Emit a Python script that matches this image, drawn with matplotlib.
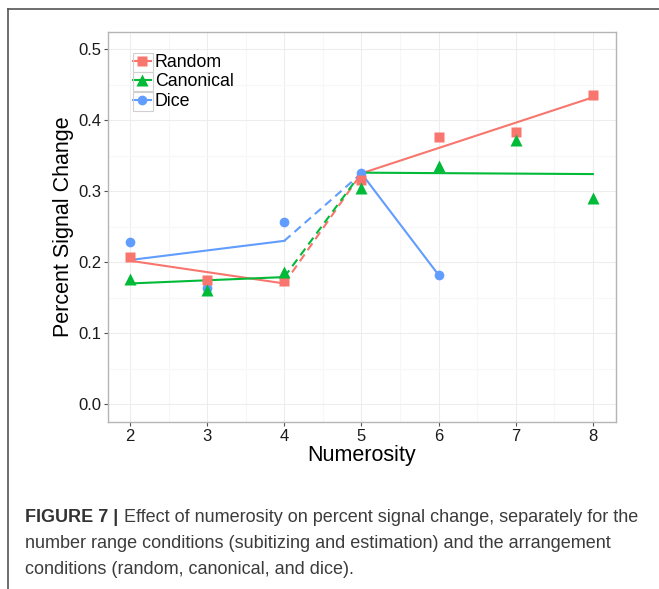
import matplotlib.pyplot as plt
from matplotlib.lines import Line2D
from matplotlib.patches import Rectangle

# ggplot default hues
colors = {'Random': '#F8766D', 'Canonical': '#00BA38', 'Dice': '#619CFF'}
markers = {'Random': 's', 'Canonical': '^', 'Dice': 'o'}
msizes = {'Random': 7, 'Canonical': 8.5, 'Dice': 7}

conditions = ['Random', 'Canonical', 'Dice']

# observed means
numerosity = [2, 3, 4, 5, 6, 7, 8]
random_psc = [0.207, 0.175, 0.174, 0.316, 0.376, 0.383, 0.435]
canonical_psc = [0.177, 0.161, 0.186, 0.305, 0.335, 0.372, 0.290]
dice_numerosity = [2, 3, 4, 5, 6]
dice_psc = [0.229, 0.164, 0.256, 0.325, 0.182]

# fitted lines: subitizing range (2-4) and estimation range (5-8)
sub_x = [2, 4]
random_sub = [0.202, 0.170]
canonical_sub = [0.170, 0.179]
dice_sub = [0.203, 0.230]

est_x = [5, 8]
random_est = [0.325, 0.432]
canonical_est = [0.326, 0.324]
dice_est_x = [5, 6]
dice_est = [0.325, 0.182]

points = {
    'Random': (numerosity, random_psc),
    'Canonical': (numerosity, canonical_psc),
    'Dice': (dice_numerosity, dice_psc),
}
sub_fits = {'Random': random_sub, 'Canonical': canonical_sub, 'Dice': dice_sub}
est_fits = {
    'Random': (est_x, random_est),
    'Canonical': (est_x, canonical_est),
    'Dice': (dice_est_x, dice_est),
}

W, H = 659, 589
fig = plt.figure(figsize=(W / 100, H / 100), dpi=100)
plt.rcParams['font.family'] = ['Liberation Sans', 'DejaVu Sans']

ax = fig.add_axes([108 / W, 1 - 422 / H, 508 / W, 390 / H])

for cond in conditions:
    c = colors[cond]
    # subitizing fit
    ax.plot(sub_x, sub_fits[cond], color=c, lw=1.5, zorder=3)
    # dashed bridge between the two fits
    ex, ey = est_fits[cond]
    ax.plot([sub_x[-1], ex[0]], [sub_fits[cond][-1], ey[0]], color=c, lw=1.5,
            dashes=(4, 2.5), zorder=3)
    # estimation fit
    ax.plot(ex, ey, color=c, lw=1.5, zorder=3)

for cond in ['Dice', 'Random', 'Canonical']:
    x, y = points[cond]
    ax.plot(x, y, ls='none', marker=markers[cond], ms=msizes[cond],
            color=colors[cond], mec='none', zorder=4)

ax.set_xlim(1.715, 8.3)
ax.set_ylim(-0.025, 0.524)
ax.set_xticks(numerosity)
ax.set_yticks([0.0, 0.1, 0.2, 0.3, 0.4, 0.5])
ax.set_yticklabels(['0.0', '0.1', '0.2', '0.3', '0.4', '0.5'])
ax.set_xticks([2.5, 3.5, 4.5, 5.5, 6.5, 7.5], minor=True)
ax.set_yticks([0.05, 0.15, 0.25, 0.35, 0.45], minor=True)
ax.grid(which='major', color='#ededed', lw=0.8, zorder=0)
ax.grid(which='minor', color='#f7f7f7', lw=0.8, zorder=0)
ax.set_axisbelow(True)
ax.tick_params(which='minor', length=0)
ax.tick_params(which='major', length=3, width=0.8, color='#555555',
               labelsize=12, labelcolor='#1a1a1a', pad=2)
for s in ax.spines.values():
    s.set_color('#b5b5b5')
    s.set_linewidth(1.0)

ax.set_xlabel('Numerosity', fontsize=15.5, labelpad=1)
ax.set_ylabel('Percent Signal Change', fontsize=15.5, labelpad=3)

# legend
handles = [Line2D([], [], color=colors[c], lw=1.5, marker=markers[c],
                  ms=msizes[c], mec='none') for c in conditions]
leg = ax.legend(handles, conditions, loc='upper left',
                bbox_to_anchor=(131 / W, 1 - 52 / H), bbox_transform=fig.transFigure,
                frameon=False, fontsize=12.8, handlelength=1.05, handletextpad=0.2,
                labelspacing=0.14, borderpad=0.1, borderaxespad=0)
fig.canvas.draw()
# grey key boxes, one per legend row
for txt in leg.get_texts():
    tb = txt.get_window_extent()
    yc = (tb.y0 + tb.y1) / 2
    fig.add_artist(Rectangle((133 / W, (yc - 9.5) / H), 20 / W, 19 / H,
                             transform=fig.transFigure, fill=False,
                             ec='#d0d0d0', lw=0.8, zorder=2))

# page frame
fig.add_artist(Line2D([8 / W, 1], [1 - 9 / H, 1 - 9 / H], color='#555555', lw=1.2))
fig.add_artist(Line2D([8 / W, 8 / W], [0, 1 - 9 / H], color='#555555', lw=1.2))

# caption
fs = 13
cap_col = '#3c3c3c'
t = fig.text(25 / W, 1 - 518 / H, 'FIGURE 7 |', fontsize=fs, fontweight='bold',
             color='#333333', va='center')
fig.canvas.draw()
bb = t.get_window_extent()
fig.text((bb.x1 + 6) / W, 1 - 518 / H,
         'Effect of numerosity on percent signal change, separately for the',
         fontsize=fs, color=cap_col, va='center')
fig.text(25 / W, 1 - 543 / H,
         'number range conditions (subitizing and estimation) and the arrangement',
         fontsize=fs, color=cap_col, va='center')
fig.text(25 / W, 1 - 569 / H, 'conditions (random, canonical, and dice).',
         fontsize=fs, color=cap_col, va='center')

fig.savefig('out.png', dpi=100)
